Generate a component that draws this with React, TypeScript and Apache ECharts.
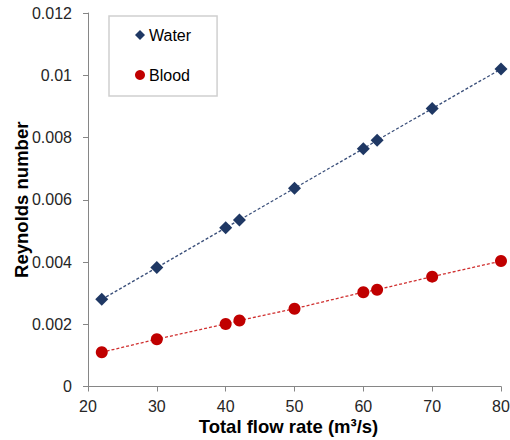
import React, { useEffect, useRef } from "react";
import * as echarts from "echarts";

const flowRates = [22, 30, 40, 42, 50, 60, 62, 70, 80];
const waterRe = [0.0028, 0.00382, 0.0051, 0.00535, 0.00637, 0.00764, 0.00791, 0.00893, 0.0102];
const bloodRe = [0.0011, 0.00152, 0.00201, 0.00212, 0.0025, 0.00303, 0.00311, 0.00353, 0.00403];
const seriesNames = ["Water", "Blood"];

export default function App() {
  const ref = useRef<HTMLDivElement>(null);
  useEffect(() => {
    if (!ref.current) return;
    const chart = echarts.init(ref.current, null, { renderer: "svg" });
    const font = "'Liberation Sans', Arial, sans-serif";
    const axisLine = { show: true, lineStyle: { color: "#868686", width: 1 } };
    chart.setOption({
      animation: false,
      textStyle: { fontFamily: font },
      grid: {
        left: 88,
        right: 9,
        top: 13,
        bottom: 53.5,
        containLabel: false,
        outerBoundsMode: "none",
      },
      legend: {
        orient: "vertical",
        left: 109,
        top: 16,
        padding: [11, 26, 13, 26],
        itemGap: 24,
        itemWidth: 10,
        itemHeight: 10,
        borderColor: "#d0d0d0",
        borderWidth: 1.5,
        textStyle: { fontSize: 16, color: "#000", fontFamily: font, padding: [0, 0, 0, -1] },
        data: [
          { name: seriesNames[0], icon: "diamond" },
          { name: seriesNames[1], icon: "circle" },
        ],
      },
      xAxis: {
        type: "value",
        min: 20,
        max: 80,
        interval: 10,
        name: "Total flow rate (m³/s)",
        nameLocation: "middle",
        nameGap: 30,
        nameMoveOverlap: false,
        nameTextStyle: {
          fontSize: 18.5,
          fontWeight: "bold",
          color: "#000",
          fontFamily: font,
          padding: [0, 12, 0, 0],
        },
        axisLine,
        axisTick: { show: true, length: 5, lineStyle: { color: "#868686" } },
        axisLabel: { fontSize: 16, color: "#262626", margin: 12, fontFamily: font },
        splitLine: { show: false },
      },
      yAxis: {
        type: "value",
        min: 0,
        max: 0.012,
        interval: 0.002,
        name: "Reynolds number",
        nameLocation: "middle",
        nameGap: 57,
        nameMoveOverlap: false,
        nameTextStyle: { fontSize: 18.5, fontWeight: "bold", color: "#000", fontFamily: font },
        axisLine,
        axisTick: { show: true, length: 5, lineStyle: { color: "#868686" } },
        axisLabel: { fontSize: 16, color: "#262626", margin: 16, fontFamily: font },
        splitLine: { show: false },
      },
      series: [
        {
          name: seriesNames[0],
          type: "line",
          data: flowRates.map((x, i) => [x, waterRe[i]]),
          symbol: "diamond",
          symbolSize: 13,
          itemStyle: { color: "#1F3864" },
          lineStyle: { color: "#3a4f7a", width: 1.3, type: [3, 2] },
        },
        {
          name: seriesNames[1],
          type: "line",
          data: flowRates.map((x, i) => [x, bloodRe[i]]),
          symbol: "circle",
          symbolSize: 12,
          itemStyle: { color: "#C00000" },
          lineStyle: { color: "#d03030", width: 1.3, type: [3, 2] },
        },
      ],
    });
    return () => chart.dispose();
  }, []);
  return (
    <div
      ref={ref}
      style={{ position: "absolute", left: 0, top: 0, width: 510, height: 440 }}
    />
  );
}
